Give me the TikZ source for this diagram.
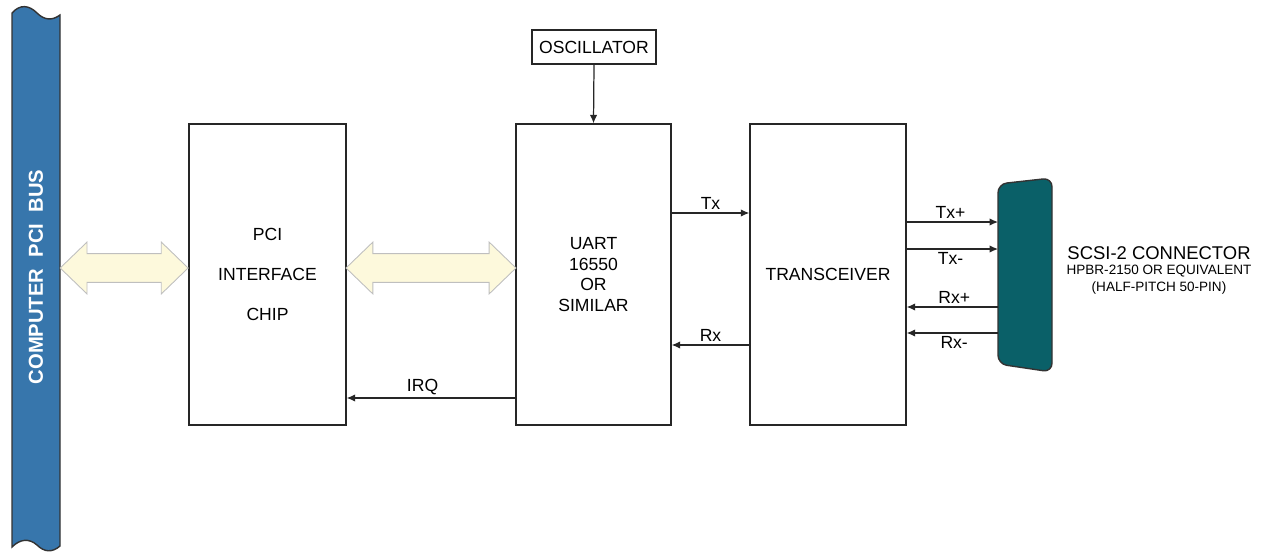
\documentclass[tikz,border=0pt]{standalone}
\usepackage{fontspec}
\setmainfont{Liberation Sans}
\usetikzlibrary{arrows.meta,positioning,calc,shapes.arrows}
\definecolor{busblue}{RGB}{55,118,172}
\definecolor{conteal}{RGB}{10,96,104}
\definecolor{pale}{RGB}{253,249,220}

\begin{document}
\begin{tikzpicture}[
  x=.02cm,y=-.02cm,>={Latex[length=1.7mm,width=1.5mm]},
  sig/.style={->,line width=.7pt,draw=black!85},
  blk/.style={draw=black!85,line width=.8pt,align=center,
    font=\fontsize{10}{22.7}\selectfont,inner sep=0pt},
  bigarrow/.style={double arrow,draw=black!25,fill=pale,line width=.5pt,
    inner xsep=0pt,inner ysep=.28cm,double arrow head extend=.23cm,
    double arrow tip angle=88},
  lbl/.style={font=\fontsize{10}{12}\selectfont,inner sep=1.5pt}]
\useasboundingbox (0,0) rectangle (1264,554);
% bus strip
\draw[fill=busblue,line width=.8pt,draw=black!80]
  (12,13) .. controls (20,4) and (29,5) .. (37,13)
  .. controls (44,20) and (52,21) .. (60,15) -- (60,546)
  .. controls (52,553) and (44,552) .. (37,545)
  .. controls (29,538) and (20,539) .. (12,547) -- cycle;
\node[rotate=90,text=white,font=\fontsize{11.5}{13}\selectfont\bfseries] (bus) at (36,277)
  {COMPUTER\ \ PCI\ \ BUS};
\coordinate (busedge) at (60,268);
% blocks
\node[blk,minimum width=3.14cm,minimum height=6.02cm] (pci) at (267.5,274.5)
  {PCI\\INTERFACE\\CHIP};
\node[blk,minimum width=3.1cm,minimum height=6.02cm,
  font=\fontsize{10}{11.8}\selectfont] (uart) at (593.5,274.5)
  {UART\\16550\\OR\\SIMILAR};
\node[blk,minimum width=3.12cm,minimum height=6.02cm] (trx) at (828,274.5)
  {TRANSCEIVER};
\node[blk,minimum width=2.48cm,minimum height=.68cm] (osc) at (594,47)
  {OSCILLATOR};
% wide data paths
\node[bigarrow,minimum height=2.56cm] (dpa) at ($(busedge)!.5!(pci.west |- busedge)$) {};
\node[bigarrow,minimum height=3.4cm] (dpb) at ($(pci.east |- busedge)!.5!(uart.west |- busedge)$) {};
% connector
\draw[fill=conteal,line width=.8pt,draw=black!80,rounded corners=5pt]
  (998,184) -- (1052,178) -- (1052,372) -- (998,364) -- cycle;
\coordinate (conn) at (998,270);
\node[lbl,font=\fontsize{10.5}{12}\selectfont] (scsi) at (1159,253) {SCSI-2 CONNECTOR};
\node[lbl,font=\fontsize{7.7}{9.6}\selectfont,below=0pt of scsi,align=center] (part)
  {HPBR-2150 OR EQUIVALENT\\(HALF-PITCH 50-PIN)};
% signals
\coordinate (ytx) at (0,213);
\coordinate (yrx) at (0,345);
\coordinate (yirq) at (0,398);
\coordinate (ytxp) at (0,222);
\coordinate (ytxm) at (0,249);
\coordinate (yrxp) at (0,307);
\coordinate (yrxm) at (0,333);
\draw[sig] (osc.south) -- (uart.north);
\draw[sig] (uart.east |- ytx) -- node[lbl,above]{Tx} (trx.west |- ytx);
\draw[sig] (trx.west |- yrx) -- node[lbl,above]{Rx} (uart.east |- yrx);
\draw[sig] (uart.west |- yirq) -- node[lbl,above,pos=.55]{IRQ} (pci.east |- yirq);
\draw[sig] (trx.east |- ytxp) -- node[lbl,above,pos=.48]{Tx+} (conn |- ytxp);
\draw[sig] (trx.east |- ytxm) -- node[lbl,below,pos=.48]{Tx-} (conn |- ytxm);
\draw[sig] (conn |- yrxp) -- node[lbl,above,pos=.48]{Rx+} (trx.east |- yrxp);
\draw[sig] (conn |- yrxm) -- node[lbl,below,pos=.48]{Rx-} (trx.east |- yrxm);
\end{tikzpicture}
\end{document}
